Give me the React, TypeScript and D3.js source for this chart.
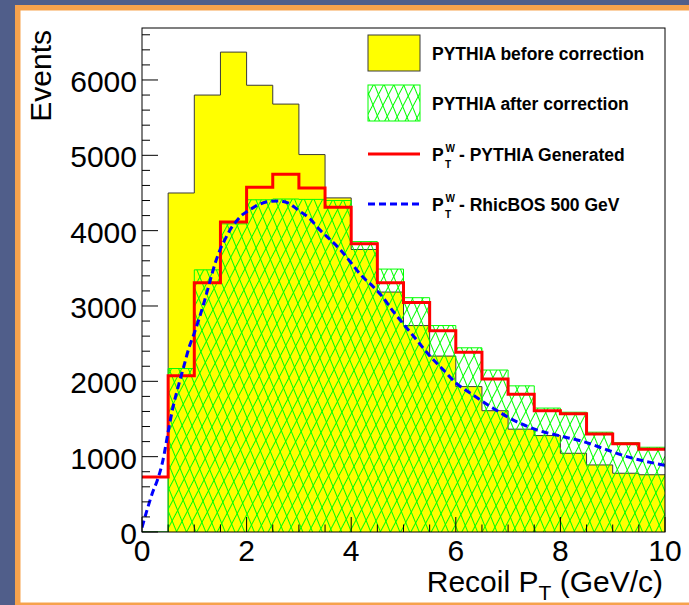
import React from 'react';
import * as d3 from 'd3';

// Recoil pT histograms (bin lower edges, 0.5 GeV/c wide)
const binStarts = [0, 0.5, 1, 1.5, 2, 2.5, 3, 3.5, 4, 4.5, 5, 5.5, 6, 6.5, 7, 7.5, 8, 8.5, 9, 9.5];
const BIN_WIDTH = 0.5;

const beforeCorrection = [0, 4500, 5800, 6370, 5930, 5680, 5010, 4435, 3750, 3185, 2740, 2335, 1930, 1610, 1365, 1280, 1045, 890, 780, 760];
const afterCorrection = [0, 2170, 3480, 4090, 4410, 4420, 4415, 4400, 3855, 3490, 3110, 2740, 2445, 2150, 1940, 1645, 1590, 1325, 1185, 1125];
const pythiaGenerated = [730, 2075, 3310, 4115, 4575, 4750, 4565, 4310, 3825, 3310, 3045, 2670, 2385, 2030, 1830, 1610, 1570, 1300, 1170, 1100];

// RhicBOS 500 GeV prediction (pT, events)
const rhicbosX = [0, 0.1, 0.2, 0.3, 0.4, 0.5, 0.6, 0.7, 0.8, 0.9, 1.0, 1.1, 1.2, 1.3, 1.4, 1.5, 1.6, 1.7, 1.8, 1.9, 2.0, 2.2, 2.4, 2.6, 2.8, 3.0, 3.2, 3.4, 3.6, 3.8, 4.0, 4.2, 4.4, 4.6, 4.8, 5.0, 5.25, 5.5, 5.75, 6.0, 6.33, 6.72, 7.16, 7.55, 8.06, 8.44, 8.89, 9.27, 9.65, 10];
const rhicbosY = [60, 300, 520, 700, 950, 1330, 1680, 1950, 2200, 2450, 2640, 2850, 3080, 3330, 3570, 3760, 3900, 4030, 4120, 4200, 4250, 4335, 4385, 4395, 4365, 4265, 4165, 4010, 3880, 3740, 3570, 3400, 3270, 3120, 2930, 2760, 2550, 2340, 2160, 1980, 1820, 1640, 1465, 1355, 1265, 1200, 1090, 1000, 935, 885];

const xMajorTicks = [0, 2, 4, 6, 8, 10];
const yMajorTicks = [0, 1000, 2000, 3000, 4000, 5000, 6000];
const legendLabels = ['PYTHIA before correction', 'PYTHIA after correction', '- PYTHIA Generated', '- RhicBOS 500 GeV'];

const W = 689;
const H = 605;
const FONT = '"Liberation Sans", Arial, Helvetica, sans-serif';

export default function App() {
  const x = d3.scaleLinear().domain([0, 10]).range([142, 665]);
  const y = d3.scaleLinear().domain([0, 6690]).range([532, 28]);

  const stepPoints = (vals: number[]) => {
    const pts: [number, number][] = binStarts.map((b, i) => [b, vals[i]]);
    const last = binStarts.length - 1;
    pts.push([binStarts[last] + BIN_WIDTH, vals[last]]);
    return pts;
  };

  const stepLine = d3
    .line<[number, number]>()
    .x((d) => x(d[0]))
    .y((d) => y(d[1]))
    .curve(d3.curveStepAfter);

  const stepArea = d3
    .area<[number, number]>()
    .x((d) => x(d[0]))
    .y0(y(0))
    .y1((d) => y(d[1]))
    .curve(d3.curveStepAfter);

  const yellowPts = stepPoints(beforeCorrection);
  const greenPts = stepPoints(afterCorrection);
  const redPts = stepPoints(pythiaGenerated);

  const curve = d3
    .line<number>()
    .x((d) => x(d))
    .y((_, i) => y(rhicbosY[i]))
    .curve(d3.curveMonotoneX);

  const xMinor = d3.range(0, 10.001, 0.5);
  const yMinor = d3.range(0, 6690, 200);

  const legendX0 = 368;
  const legendX1 = 420;
  const textX = 432;

  return (
    <svg width={W} height={H} style={{ position: 'absolute', left: 0, top: 0 }} fontFamily={FONT}>
      <defs>
        <pattern id="hatchA" patternUnits="userSpaceOnUse" width={9} height={20} patternTransform="rotate(-22)">
          <line x1={0.5} y1={0} x2={0.5} y2={20} stroke="#00ff00" strokeWidth={1} />
        </pattern>
        <pattern id="hatchB" patternUnits="userSpaceOnUse" width={9} height={20} patternTransform="rotate(28)">
          <line x1={0.5} y1={0} x2={0.5} y2={20} stroke="#00ff00" strokeWidth={1} />
        </pattern>
        <clipPath id="frameClip">
          <rect x={142} y={28} width={523} height={504} />
        </clipPath>
      </defs>

      {/* page background and border */}
      <rect x={0} y={0} width={W} height={H} fill="#505e8a" />
      <rect x={15} y={5} width={W} height={H} fill="#f6a24c" />
      <rect x={20.5} y={10.5} width={W} height={592} fill="#ffffff" />

      <g clipPath="url(#frameClip)">
        {/* before correction */}
        <path d={stepArea(yellowPts) ?? ''} fill="#ffff00" />
        <path d={stepLine(yellowPts) ?? ''} fill="none" stroke="#3a3a3a" strokeWidth={1} />

        {/* after correction, hatched */}
        <path d={stepArea(greenPts) ?? ''} fill="url(#hatchA)" />
        <path d={stepArea(greenPts) ?? ''} fill="url(#hatchB)" />
        <path d={stepLine(greenPts) ?? ''} fill="none" stroke="#00ff00" strokeWidth={1} />

        {/* PYTHIA generated */}
        <path d={stepLine(redPts) ?? ''} fill="none" stroke="#ff0000" strokeWidth={3} />

        {/* RhicBOS */}
        <path d={curve(rhicbosX) ?? ''} fill="none" stroke="#0000ff" strokeWidth={3} strokeDasharray="7,4" />
      </g>

      {/* frame */}
      <rect x={142} y={28} width={523} height={504} fill="none" stroke="#000" strokeWidth={1} />

      {/* x axis ticks */}
      {xMinor.map((t) => {
        const major = xMajorTicks.includes(t);
        return (
          <line key={`xt${t}`} x1={x(t)} x2={x(t)} y1={532} y2={532 - (major ? 15 : 7.5)} stroke="#000" strokeWidth={1} />
        );
      })}
      {xMajorTicks.map((t) => (
        <text key={`xl${t}`} x={x(t)} y={561} fontSize={30} textAnchor="middle" fill="#000">
          {t}
        </text>
      ))}

      {/* y axis ticks */}
      {yMinor.map((t) => {
        const major = yMajorTicks.includes(t);
        return (
          <line key={`yt${t}`} x1={142} x2={142 + (major ? 16 : 8)} y1={y(t)} y2={y(t)} stroke="#000" strokeWidth={1} />
        );
      })}
      {yMajorTicks.map((t) => (
        <text key={`yl${t}`} x={137} y={y(t) + 12} fontSize={30} textAnchor="end" fill="#000">
          {t}
        </text>
      ))}

      {/* axis titles */}
      <text x={663} y={592} fontSize={30} textAnchor="end" fill="#000">
        Recoil P
        <tspan fontSize={21} dy={8}>T</tspan>
        <tspan dy={-8}> (GeV/c)</tspan>
      </text>
      <text transform="translate(51,30) rotate(-90)" fontSize={30} textAnchor="end" fill="#000">
        Events
      </text>

      {/* legend */}
      <g fontWeight="bold" fontSize={17.5} fill="#000">
        <rect x={legendX0} y={35} width={legendX1 - legendX0} height={36} fill="#ffff00" stroke="#3a3a3a" strokeWidth={1} />
        <text x={textX} y={59.5}>{legendLabels[0]}</text>

        <rect x={legendX0} y={85} width={legendX1 - legendX0} height={36} fill="url(#hatchA)" />
        <rect x={legendX0} y={85} width={legendX1 - legendX0} height={36} fill="url(#hatchB)" stroke="#00ff00" strokeWidth={1} />
        <text x={textX} y={109.5}>{legendLabels[1]}</text>

        <line x1={legendX0} x2={legendX1} y1={154} y2={154} stroke="#ff0000" strokeWidth={3} />
        <text x={textX} y={160.5}>P</text>
        <text x={445.5} y={151.5} fontSize={10}>W</text>
        <text x={445} y={168} fontSize={10}>T</text>
        <text x={459} y={160.5}>{legendLabels[2]}</text>

        <line x1={legendX0} x2={legendX1} y1={204} y2={204} stroke="#0000ff" strokeWidth={3} strokeDasharray="7,4" />
        <text x={textX} y={210.5}>P</text>
        <text x={445.5} y={201.5} fontSize={10}>W</text>
        <text x={445} y={218} fontSize={10}>T</text>
        <text x={459} y={210.5}>{legendLabels[3]}</text>
      </g>
    </svg>
  );
}
